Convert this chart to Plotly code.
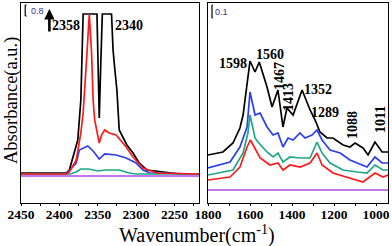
import plotly.graph_objects as go

# ---------------- data (arbitrary absorbance units) ----------------
# Left panel (CO2 region)
wn_black_L = [2450, 2391, 2387, 2383, 2376, 2372, 2370, 2369, 2351, 2349.5, 2348, 2346, 2344, 2332, 2330, 2328, 2325, 2322, 2312, 2304, 2296, 2286, 2260, 2243, 2218]
ab_black_L = [30, 30, 33, 43, 63, 103, 163, 189, 189, 120, 85, 140, 189, 189, 153, 136, 113, 73, 58, 50, 40, 33, 31, 29, 29]

wn_red_L = [2450, 2390, 2387, 2378, 2372, 2369, 2364, 2361, 2358, 2356, 2354, 2352, 2348, 2345, 2341, 2335, 2326, 2313, 2304, 2291, 2273, 2218]
ab_red_L = [29, 29, 31, 43, 70, 90, 150, 189, 150, 103, 83, 76, 60, 68, 73, 70, 68, 56, 46, 35, 30, 29]

wn_blue_L = [2450, 2391, 2384, 2378, 2374, 2368, 2363, 2356, 2348, 2341, 2326, 2313, 2300, 2291, 2282, 2218]
ab_blue_L = [29, 29, 35, 40, 53, 55, 57, 52, 44, 49, 48, 45, 40, 33, 30, 29]

wn_green_L = [2450, 2386, 2378, 2372, 2362, 2350, 2340, 2322, 2309, 2300, 2218]
ab_green_L = [29, 29, 31, 34, 34, 32, 33, 33, 30, 29, 29]

wn_purple_L = [2450, 2218]
ab_purple_L = [27, 27]

# Right panel (fingerprint region)
wn_black_R = [1800, 1729, 1681, 1648, 1633, 1614, 1600, 1576, 1556, 1519, 1495, 1467, 1443, 1424, 1395, 1352, 1314, 1290, 1267, 1233, 1205, 1157, 1124, 1100, 1062, 1038, 1005, 971, 943]
ab_black_R = [48, 51, 60, 75, 88, 120, 142, 131, 141, 116, 96, 113, 76, 95, 88, 113, 93, 83, 71, 65, 65, 58, 56, 60, 55, 48, 61, 51, 51]

wn_blue_R = [1800, 1695, 1648, 1614, 1600, 1576, 1552, 1529, 1519, 1490, 1467, 1443, 1419, 1395, 1362, 1338, 1305, 1281, 1257, 1219, 1171, 1124, 1090, 1043, 1005, 971, 943]
ab_blue_R = [35, 41, 56, 76, 111, 88, 90, 80, 76, 68, 70, 56, 65, 63, 70, 65, 68, 73, 63, 53, 50, 43, 40, 36, 46, 40, 40]

wn_green_R = [1800, 1681, 1633, 1610, 1600, 1576, 1562, 1519, 1490, 1467, 1443, 1410, 1362, 1314, 1281, 1257, 1219, 1157, 1090, 1043, 1005, 967, 943]
ab_green_R = [28, 33, 50, 70, 88, 65, 61, 51, 46, 50, 41, 46, 45, 45, 61, 50, 40, 33, 31, 30, 38, 33, 33]

wn_red_R = [1800, 1695, 1648, 1614, 1598, 1567, 1552, 1505, 1467, 1443, 1410, 1362, 1314, 1281, 1257, 1205, 1124, 1062, 1005, 967, 943]
ab_red_R = [23, 26, 36, 56, 63, 50, 45, 38, 40, 33, 38, 36, 40, 50, 38, 30, 25, 21, 30, 26, 28]

wn_purple_R = [1800, 943]
ab_purple_R = [13, 13]

# Tick labels
ticks_L = [2450, 2400, 2350, 2300, 2250]
ticks_R = [1800, 1600, 1400, 1200, 1000]

# Peak labels
peaks_L = ["2358", "2340"]
peaks_R = ["1598", "1560", "1467", "1413", "1352", "1289", "1088", "1011"]

# ---------------- figure ----------------
colors = {"black": "#000000", "red": "#ff1a1a", "blue": "#2a3df0", "green": "#1fa888", "purple": "#b04ae6"}
fig = go.Figure()

def add(x, y, c, xa, ya):
    fig.add_trace(go.Scatter(x=x, y=y, mode="lines", line=dict(color=colors[c], width=1.7),
                             xaxis=xa, yaxis=ya, showlegend=False, hoverinfo="skip"))

add(wn_black_L, ab_black_L, "black", "x", "y")
add(wn_blue_L, ab_blue_L, "blue", "x", "y")
add(wn_green_L, ab_green_L, "green", "x", "y")
add(wn_red_L, ab_red_L, "red", "x", "y")
add(wn_purple_L, ab_purple_L, "purple", "x", "y")

add(wn_black_R, ab_black_R, "black", "x2", "y2")
add(wn_blue_R, ab_blue_R, "blue", "x2", "y2")
add(wn_green_R, ab_green_R, "green", "x2", "y2")
add(wn_red_R, ab_red_R, "red", "x2", "y2")
add(wn_purple_R, ab_purple_R, "purple", "x2", "y2")

W, H = 392, 246
ml, mr, mt, mb = 21, 4, 3, 43
plot_w = W - ml - mr
dom1 = [0, (199 - ml) / plot_w]
dom2 = [(208 - ml) / plot_w, 1]

tickfont = dict(family="Liberation Serif", size=13.5, color="#000000")
axis_common = dict(showline=True, linecolor="#000000", linewidth=1, mirror=True,
                   showgrid=False, zeroline=False, ticks="outside", ticklen=2,
                   tickcolor="#000000", tickfont=tickfont, ticklabelstandoff=-3)

fig.update_layout(
    width=W, height=H, margin=dict(l=ml, r=mr, t=mt, b=mb),
    paper_bgcolor="white", plot_bgcolor="white",
    xaxis=dict(domain=dom1, range=[2450, 2218], tickvals=ticks_L,
               ticktext=["<b>%d</b>" % t for t in ticks_L],
               minor=dict(dtick=25, ticks="outside", ticklen=2, tickcolor="#000000"),
               anchor="y", **axis_common),
    xaxis2=dict(domain=dom2, range=[1800, 943], tickvals=ticks_R,
                ticktext=["<b>%d</b>" % t for t in ticks_R],
                minor=dict(dtick=100, ticks="outside", ticklen=2, tickcolor="#000000"),
                anchor="y2", **axis_common),
    yaxis=dict(range=[0, 200], showline=True, linecolor="#000000", linewidth=1, mirror=True,
               showticklabels=False, ticks="", showgrid=False, zeroline=False, anchor="x"),
    yaxis2=dict(range=[0, 200], showline=True, linecolor="#000000", linewidth=1, mirror=True,
                showticklabels=False, ticks="", showgrid=False, zeroline=False, anchor="x2"),
)

pk_font = dict(family="Liberation Serif", size=14, color="#000000")
ann = []
# left peak labels
ann.append(dict(x=2391, y=178, xref="x", yref="y", text="<b>%s</b>" % peaks_L[0], showarrow=False, font=pk_font))
ann.append(dict(x=2309, y=178, xref="x", yref="y", text="<b>%s</b>" % peaks_L[1], showarrow=False, font=pk_font))
# arrow
ann.append(dict(x=2413, y=194, xref="x", yref="y", ax=0, ay=24, text="", showarrow=True,
                arrowhead=2, arrowsize=0.8, arrowwidth=2.6, arrowcolor="#000000"))
# right peak labels: (x, y, angle)
pos_R = [(1681, 140, 0), (1505, 149, 0), (1462, 127, -90), (1419, 106, -90),
         (1276, 114, 0), (1243, 91, 0), (1114, 78, -90), (981, 83, -90)]
for lab, (x, y, a) in zip(peaks_R, pos_R):
    ann.append(dict(x=x, y=y, xref="x2", yref="y2", text="<b>%s</b>" % lab, showarrow=False,
                    textangle=a, font=pk_font))
# scale bar labels
sb_font = dict(family="Liberation Sans", size=9, color="#333399")
ann.append(dict(x=2440, y=192, xref="x", yref="y", text="0.8", showarrow=False, font=sb_font, xanchor="left"))
ann.append(dict(x=1776, y=191, xref="x2", yref="y2", text="0.1", showarrow=False, font=sb_font, xanchor="left"))
# axis titles
ann.append(dict(x=(196.5 - ml) / plot_w, y=(203 - 234) / 200, xref="paper", yref="paper",
                text="Wavenumber(cm<sup>-1</sup>)", showarrow=False,
                font=dict(family="Liberation Serif", size=20, color="#000000"), yanchor="middle"))
ann.append(dict(x=(11 - ml) / plot_w, y=(203 - 101) / 200, xref="paper", yref="paper",
                text="Absorbance(a.u.)", showarrow=False, textangle=-90,
                font=dict(family="Liberation Serif", size=18.5, color="#000000"), xanchor="center", yanchor="middle"))
fig.update_layout(annotations=ann)

# scale bars (brackets)
for xa, ya, x0, cap, y0, y1 in [("x", "y", 2444.5, 2442.5, 187, 198), ("x2", "y2", 1781, 1777, 185, 198)]:
    fig.add_shape(type="line", xref=xa, yref=ya, x0=x0, x1=x0, y0=y0, y1=y1, line=dict(color="#000000", width=1.2))
    fig.add_shape(type="line", xref=xa, yref=ya, x0=x0, x1=cap, y0=y0, y1=y0, line=dict(color="#000000", width=1))
    fig.add_shape(type="line", xref=xa, yref=ya, x0=x0, x1=cap, y0=y1, y1=y1, line=dict(color="#000000", width=1))

fig.write_html("out.html", config={"displayModeBar": False},
               post_script="document.body.style.margin='0';document.body.style.overflow='hidden';")
